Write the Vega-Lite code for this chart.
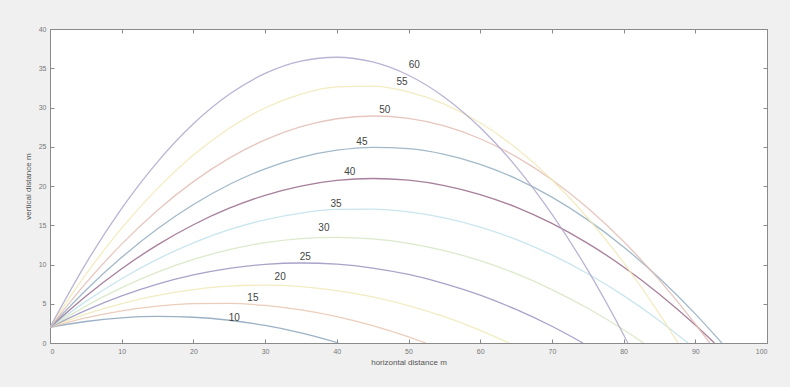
{
  "$schema": "https://vega.github.io/schema/vega-lite/v6.json",
  "width": 717,
  "height": 314,
  "autosize": "none",
  "padding": {"left": 50, "top": 29, "right": 23, "bottom": 44},
  "background": "#f0f0f0",
  "config": {
    "view": {"fill": "white", "stroke": "#8a8a8a", "strokeWidth": 1},
    "font": "Liberation Sans",
    "axis": {"labelFont": "Liberation Sans", "titleFont": "Liberation Sans"}
  },
  "datasets": {
    "traj": [
      {"a": 10, "x": 0, "y": 2}, {"a": 10, "x": 5, "y": 2.741}, {"a": 10, "x": 10, "y": 3.201}, {"a": 10, "x": 15, "y": 3.381}, {"a": 10, "x": 20, "y": 3.279}, {"a": 10, "x": 25, "y": 2.896}, {"a": 10, "x": 30, "y": 2.232}, {"a": 10, "x": 35, "y": 1.288}, {"a": 10, "x": 40, "y": 0.062}, {"a": 10, "x": 40.23, "y": 0},
      {"a": 15, "x": 0, "y": 2}, {"a": 15, "x": 5, "y": 3.194}, {"a": 15, "x": 10, "y": 4.095}, {"a": 15, "x": 15, "y": 4.705}, {"a": 15, "x": 20, "y": 5.022}, {"a": 15, "x": 25, "y": 5.048}, {"a": 15, "x": 30, "y": 4.781}, {"a": 15, "x": 35, "y": 4.223}, {"a": 15, "x": 40, "y": 3.372}, {"a": 15, "x": 45, "y": 2.229}, {"a": 15, "x": 50, "y": 0.794}, {"a": 15, "x": 52.4, "y": 0},
      {"a": 20, "x": 0, "y": 2}, {"a": 20, "x": 5, "y": 3.666}, {"a": 20, "x": 10, "y": 5.023}, {"a": 20, "x": 15, "y": 6.071}, {"a": 20, "x": 20, "y": 6.811}, {"a": 20, "x": 25, "y": 7.242}, {"a": 20, "x": 30, "y": 7.364}, {"a": 20, "x": 35, "y": 7.178}, {"a": 20, "x": 40, "y": 6.684}, {"a": 20, "x": 45, "y": 5.88}, {"a": 20, "x": 50, "y": 4.769}, {"a": 20, "x": 55, "y": 3.348}, {"a": 20, "x": 60, "y": 1.619}, {"a": 20, "x": 64.03, "y": 0},
      {"a": 25, "x": 0, "y": 2}, {"a": 25, "x": 5, "y": 4.166}, {"a": 25, "x": 10, "y": 6.0}, {"a": 25, "x": 15, "y": 7.502}, {"a": 25, "x": 20, "y": 8.672}, {"a": 25, "x": 25, "y": 9.511}, {"a": 25, "x": 30, "y": 10.018}, {"a": 25, "x": 35, "y": 10.193}, {"a": 25, "x": 40, "y": 10.036}, {"a": 25, "x": 45, "y": 9.548}, {"a": 25, "x": 50, "y": 8.728}, {"a": 25, "x": 55, "y": 7.576}, {"a": 25, "x": 60, "y": 6.093}, {"a": 25, "x": 65, "y": 4.277}, {"a": 25, "x": 70, "y": 2.13}, {"a": 25, "x": 74.33, "y": 0},
      {"a": 30, "x": 0, "y": 2}, {"a": 30, "x": 5, "y": 4.705}, {"a": 30, "x": 10, "y": 7.047}, {"a": 30, "x": 15, "y": 9.025}, {"a": 30, "x": 20, "y": 10.64}, {"a": 30, "x": 25, "y": 11.892}, {"a": 30, "x": 30, "y": 12.78}, {"a": 30, "x": 35, "y": 13.306}, {"a": 30, "x": 40, "y": 13.467}, {"a": 30, "x": 45, "y": 13.266}, {"a": 30, "x": 50, "y": 12.701}, {"a": 30, "x": 55, "y": 11.772}, {"a": 30, "x": 60, "y": 10.481}, {"a": 30, "x": 65, "y": 8.826}, {"a": 30, "x": 70, "y": 6.808}, {"a": 30, "x": 75, "y": 4.426}, {"a": 30, "x": 80, "y": 1.681}, {"a": 30, "x": 82.78, "y": 0},
      {"a": 35, "x": 0, "y": 2}, {"a": 35, "x": 5, "y": 5.298}, {"a": 35, "x": 10, "y": 8.19}, {"a": 35, "x": 15, "y": 10.676}, {"a": 35, "x": 20, "y": 12.755}, {"a": 35, "x": 25, "y": 14.429}, {"a": 35, "x": 30, "y": 15.696}, {"a": 35, "x": 35, "y": 16.558}, {"a": 35, "x": 40, "y": 17.013}, {"a": 35, "x": 45, "y": 17.062}, {"a": 35, "x": 50, "y": 16.705}, {"a": 35, "x": 55, "y": 15.942}, {"a": 35, "x": 60, "y": 14.773}, {"a": 35, "x": 65, "y": 13.198}, {"a": 35, "x": 70, "y": 11.216}, {"a": 35, "x": 75, "y": 8.829}, {"a": 35, "x": 80, "y": 6.035}, {"a": 35, "x": 85, "y": 2.836}, {"a": 35, "x": 88.98, "y": 0},
      {"a": 40, "x": 0, "y": 2}, {"a": 40, "x": 5, "y": 5.963}, {"a": 40, "x": 10, "y": 9.462}, {"a": 40, "x": 15, "y": 12.497}, {"a": 40, "x": 20, "y": 15.067}, {"a": 40, "x": 25, "y": 17.173}, {"a": 40, "x": 30, "y": 18.814}, {"a": 40, "x": 35, "y": 19.992}, {"a": 40, "x": 40, "y": 20.704}, {"a": 40, "x": 45, "y": 20.953}, {"a": 40, "x": 50, "y": 20.737}, {"a": 40, "x": 55, "y": 20.056}, {"a": 40, "x": 60, "y": 18.912}, {"a": 40, "x": 65, "y": 17.303}, {"a": 40, "x": 70, "y": 15.229}, {"a": 40, "x": 75, "y": 12.691}, {"a": 40, "x": 80, "y": 9.689}, {"a": 40, "x": 85, "y": 6.223}, {"a": 40, "x": 90, "y": 2.292}, {"a": 40, "x": 92.67, "y": 0},
      {"a": 45, "x": 0, "y": 2}, {"a": 45, "x": 5, "y": 6.728}, {"a": 45, "x": 10, "y": 10.91}, {"a": 45, "x": 15, "y": 14.548}, {"a": 45, "x": 20, "y": 17.64}, {"a": 45, "x": 25, "y": 20.188}, {"a": 45, "x": 30, "y": 22.19}, {"a": 45, "x": 35, "y": 23.648}, {"a": 45, "x": 40, "y": 24.56}, {"a": 45, "x": 45, "y": 24.928}, {"a": 45, "x": 50, "y": 24.75}, {"a": 45, "x": 55, "y": 24.028}, {"a": 45, "x": 60, "y": 22.76}, {"a": 45, "x": 65, "y": 20.948}, {"a": 45, "x": 70, "y": 18.59}, {"a": 45, "x": 75, "y": 15.688}, {"a": 45, "x": 80, "y": 12.24}, {"a": 45, "x": 85, "y": 8.248}, {"a": 45, "x": 90, "y": 3.71}, {"a": 45, "x": 93.7, "y": 0},
      {"a": 50, "x": 0, "y": 2}, {"a": 50, "x": 5, "y": 7.629}, {"a": 50, "x": 10, "y": 12.599}, {"a": 50, "x": 15, "y": 16.909}, {"a": 50, "x": 20, "y": 20.559}, {"a": 50, "x": 25, "y": 23.55}, {"a": 50, "x": 30, "y": 25.882}, {"a": 50, "x": 35, "y": 27.554}, {"a": 50, "x": 40, "y": 28.566}, {"a": 50, "x": 45, "y": 28.919}, {"a": 50, "x": 50, "y": 28.613}, {"a": 50, "x": 55, "y": 27.647}, {"a": 50, "x": 60, "y": 26.021}, {"a": 50, "x": 65, "y": 23.736}, {"a": 50, "x": 70, "y": 20.792}, {"a": 50, "x": 75, "y": 17.188}, {"a": 50, "x": 80, "y": 12.924}, {"a": 50, "x": 85, "y": 8.001}, {"a": 50, "x": 90, "y": 2.419}, {"a": 50, "x": 92.0, "y": 0},
      {"a": 55, "x": 0, "y": 2}, {"a": 55, "x": 5, "y": 8.727}, {"a": 55, "x": 10, "y": 14.625}, {"a": 55, "x": 15, "y": 19.695}, {"a": 55, "x": 20, "y": 23.937}, {"a": 55, "x": 25, "y": 27.35}, {"a": 55, "x": 30, "y": 29.935}, {"a": 55, "x": 35, "y": 31.692}, {"a": 55, "x": 40, "y": 32.62}, {"a": 55, "x": 45, "y": 32.721}, {"a": 55, "x": 50, "y": 31.993}, {"a": 55, "x": 55, "y": 30.436}, {"a": 55, "x": 60, "y": 28.051}, {"a": 55, "x": 65, "y": 24.838}, {"a": 55, "x": 70, "y": 20.797}, {"a": 55, "x": 75, "y": 15.928}, {"a": 55, "x": 80, "y": 10.23}, {"a": 55, "x": 85, "y": 3.703}, {"a": 55, "x": 87.59, "y": 0},
      {"a": 60, "x": 0, "y": 2}, {"a": 60, "x": 5, "y": 10.115}, {"a": 60, "x": 10, "y": 17.141}, {"a": 60, "x": 15, "y": 23.076}, {"a": 60, "x": 20, "y": 27.921}, {"a": 60, "x": 25, "y": 31.676}, {"a": 60, "x": 30, "y": 34.342}, {"a": 60, "x": 35, "y": 35.917}, {"a": 60, "x": 40, "y": 36.402}, {"a": 60, "x": 45, "y": 35.797}, {"a": 60, "x": 50, "y": 34.103}, {"a": 60, "x": 55, "y": 31.318}, {"a": 60, "x": 60, "y": 27.443}, {"a": 60, "x": 65, "y": 22.478}, {"a": 60, "x": 70, "y": 16.424}, {"a": 60, "x": 75, "y": 9.279}, {"a": 60, "x": 80, "y": 1.044}, {"a": 60, "x": 80.59, "y": 0}
    ],
    "labels": [
      {"a": 60, "x": 50.8, "y": 35.4},
      {"a": 55, "x": 49.1, "y": 33.2},
      {"a": 50, "x": 46.7, "y": 29.7},
      {"a": 45, "x": 43.5, "y": 25.6},
      {"a": 40, "x": 41.8, "y": 21.8},
      {"a": 35, "x": 39.9, "y": 17.7},
      {"a": 30, "x": 38.2, "y": 14.6},
      {"a": 25, "x": 35.6, "y": 11.0},
      {"a": 20, "x": 32.1, "y": 8.4},
      {"a": 15, "x": 28.3, "y": 5.7},
      {"a": 10, "x": 25.7, "y": 3.2}
    ]
  },
  "layer": [
    {
      "data": {"name": "traj"},
      "mark": {"type": "line", "strokeWidth": 1.3, "opacity": 0.85, "interpolate": "monotone", "clip": true},
      "encoding": {
        "x": {
          "field": "x", "type": "quantitative",
          "scale": {"domain": [0, 100], "nice": false},
          "axis": {
            "orient": "bottom", "values": [0, 10, 20, 30, 40, 50, 60, 70, 80, 90, 100],
            "title": "horizontal distance m", "titleFontSize": 8, "titleFontWeight": "normal", "titleColor": "#555",
            "titlePadding": 4,
            "labelFontSize": 7, "labelColor": "#777", "labelPadding": 8,
            "tickSize": -4, "tickColor": "#8a8a8a", "domain": false, "grid": false
          }
        },
        "y": {
          "field": "y", "type": "quantitative",
          "scale": {"domain": [0, 40], "nice": false},
          "axis": {
            "orient": "left", "values": [0, 5, 10, 15, 20, 25, 30, 35, 40],
            "title": "vertical distance m", "titleFontSize": 8, "titleFontWeight": "normal", "titleColor": "#555",
            "titlePadding": 6,
            "labelFontSize": 7, "labelColor": "#777", "labelPadding": 8,
            "tickSize": -4, "tickColor": "#8a8a8a", "domain": false, "grid": false
          }
        },
        "color": {
          "field": "a", "type": "nominal",
          "scale": {
            "domain": [10, 15, 20, 25, 30, 35, 40, 45, 50, 55, 60],
            "range": ["#8aa3bb", "#e8c4ae", "#efe9b6", "#9a92c0", "#d6e5c2", "#c0e0ea", "#96688a", "#92adc0", "#e2bcb4", "#f1e8b6", "#aea6cd"]
          },
          "legend": null
        },
        "order": {"field": "x", "type": "quantitative"}
      }
    },
    {
      "data": {"name": "labels"},
      "mark": {"type": "text", "fontSize": 10, "color": "#444", "font": "Liberation Sans"},
      "encoding": {
        "x": {
          "field": "x", "type": "quantitative",
          "axis": {"orient": "top", "values": [0, 10, 20, 30, 40, 50, 60, 70, 80, 90, 100], "labels": false, "title": null, "tickSize": -4, "tickColor": "#8a8a8a", "domain": false, "grid": false}
        },
        "y": {
          "field": "y", "type": "quantitative",
          "axis": {"orient": "right", "values": [0, 5, 10, 15, 20, 25, 30, 35, 40], "labels": false, "title": null, "tickSize": -4, "tickColor": "#8a8a8a", "domain": false, "grid": false}
        },
        "text": {"field": "a", "type": "nominal"}
      }
    }
  ],
  "resolve": {"axis": {"x": "independent", "y": "independent"}}
}
